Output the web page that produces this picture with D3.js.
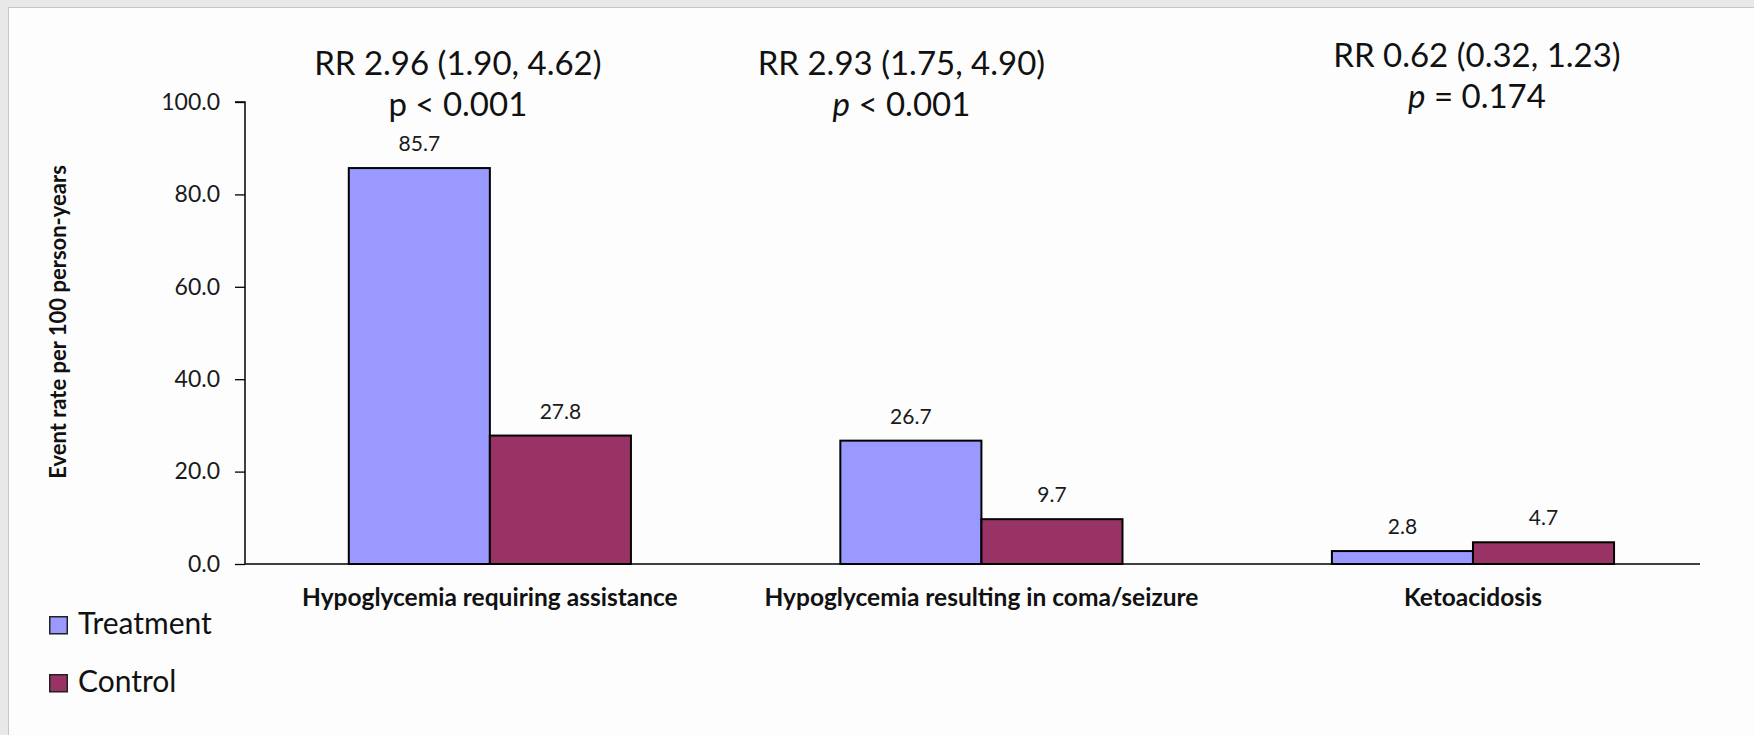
<!DOCTYPE html>
<html>
<head>
<meta charset="utf-8">
<script src="https://cdn.jsdelivr.net/npm/d3@7/dist/d3.min.js"></script>
<style>
  html, body { margin: 0; padding: 0; background: #e8e8e8; }
  svg { display: block; font-family: Lato, "Open Sans", sans-serif; }
</style>
</head>
<body>
<svg id="chart" width="1754" height="735"></svg>
<script>
// Event rates per 100 person-years
const categories = [
  "Hypoglycemia requiring assistance",
  "Hypoglycemia resulting in coma/seizure",
  "Ketoacidosis"
];
const seriesNames = ["Treatment", "Control"];
const treatmentValues = [85.7, 26.7, 2.8];
const controlValues = [27.8, 9.7, 4.7];
const yTicks = [0, 20, 40, 60, 80, 100];
const rrLabels = ["RR 2.96 (1.90, 4.62)", "RR 2.93 (1.75, 4.90)", "RR 0.62 (0.32, 1.23)"];
const pSymbols = ["p", "p", "p"];
const pItalic = [false, true, true];
const pRest = [" < 0.001", " < 0.001", " = 0.174"];

const colors = { Treatment: "#9999ff", Control: "#993366" };

const svg = d3.select("#chart");
const W = 1754, H = 735;

// panel
svg.append("rect").attr("x", 0).attr("y", 0).attr("width", W).attr("height", H).attr("fill", "#e8e8e8");
svg.append("rect").attr("x", 8.5).attr("y", 7.5).attr("width", W).attr("height", H)
  .attr("fill", "#fdfdfd").attr("stroke", "#c6c6c6").attr("stroke-width", 1);

const plot = { left: 245, right: 1700, top: 102, bottom: 564 };

const x = d3.scaleBand().domain(categories)
  .range([plot.left, plot.right])
  .paddingInner(0.426).paddingOuter(0.193).align(0.547);
const xs = d3.scaleBand().domain(seriesNames).range([0, x.bandwidth()]);
const y = d3.scaleLinear().domain([0, 100]).range([plot.bottom, plot.top]);

// y axis
const yAxis = d3.axisLeft(y).tickValues(yTicks).tickFormat(d3.format(".1f"))
  .tickSize(10).tickPadding(15);
const gy = svg.append("g").attr("transform", `translate(${plot.left},0)`).call(yAxis);
gy.select(".domain").attr("stroke", "#000").attr("stroke-width", 1.5).attr("d", `M-10,${y(100)}H0V${y(0)}`);
gy.selectAll(".tick line").attr("stroke", "#000").attr("stroke-width", 1.3);
gy.selectAll(".tick text").attr("font-size", 23).attr("fill", "#1a1a1a")
  .attr("font-family", "Lato, sans-serif");

// bars
const rows = categories.map((c, i) => ({ cat: c, values: [
  { key: "Treatment", v: treatmentValues[i] },
  { key: "Control", v: controlValues[i] }
]}));

const groups = svg.append("g").selectAll("g").data(rows).join("g")
  .attr("transform", d => `translate(${x(d.cat)},0)`);

groups.selectAll("rect").data(d => d.values).join("rect")
  .attr("x", d => xs(d.key))
  .attr("y", d => y(d.v))
  .attr("width", xs.bandwidth())
  .attr("height", d => y(0) - y(d.v))
  .attr("fill", d => colors[d.key])
  .attr("stroke", "#000").attr("stroke-width", 2);

groups.selectAll("text.val").data(d => d.values).join("text")
  .attr("class", "val")
  .attr("x", d => xs(d.key) + xs.bandwidth() / 2)
  .attr("y", d => y(d.v) - 17)
  .attr("text-anchor", "middle")
  .attr("font-size", 21).attr("fill", "#1a1a1a")
  .text(d => d.v.toFixed(1));

// x axis baseline
const xAxis = d3.axisBottom(x).tickSize(0).tickPadding(0);
const gx = svg.append("g").attr("transform", `translate(0,${plot.bottom})`).call(xAxis);
gx.select(".domain").attr("stroke", "#000").attr("stroke-width", 1.5)
  .attr("d", `M${plot.left},0H${plot.right}`);
gx.selectAll(".tick text").attr("font-size", 24.5).attr("font-weight", "bold")
  .attr("fill", "#111").attr("font-family", "Lato, sans-serif")
  .attr("dy", 0).attr("y", 42);

// y axis title
svg.append("text")
  .attr("transform", `translate(57,322) rotate(-90)`)
  .attr("text-anchor", "middle").attr("dominant-baseline", "central")
  .attr("font-size", 22).attr("font-weight", "bold").attr("fill", "#111")
  .text("Event rate per 100 person-years");

// RR annotations, placed relative to each category's centre
const annoDx = [-32, -80, 4];
const annoY1 = [75, 75, 67];
const annoY2 = [116, 116, 108];
categories.forEach((c, i) => {
  const cx = x(c) + x.bandwidth() / 2 + annoDx[i];
  svg.append("text").attr("x", cx).attr("y", annoY1[i])
    .attr("text-anchor", "middle").attr("font-size", 33).attr("fill", "#111")
    .text(rrLabels[i]);
  const t = svg.append("text").attr("x", cx).attr("y", annoY2[i])
    .attr("text-anchor", "middle").attr("font-size", 33).attr("fill", "#111");
  t.append("tspan").attr("font-style", pItalic[i] ? "italic" : "normal").text(pSymbols[i]);
  t.append("tspan").text(pRest[i]);
});

// legend
const legend = svg.append("g").attr("transform", "translate(49,616)");
seriesNames.forEach((s, i) => {
  const g = legend.append("g").attr("transform", `translate(0,${i * 58})`);
  g.append("rect").attr("x", 0.75).attr("y", 0.75).attr("width", 17.5).attr("height", 17)
    .attr("fill", colors[s]).attr("stroke", "#222").attr("stroke-width", 1.5);
  g.append("text").attr("x", 29).attr("y", 17.5).attr("font-size", 30).attr("fill", "#111").text(s);
});
</script>
</body>
</html>
